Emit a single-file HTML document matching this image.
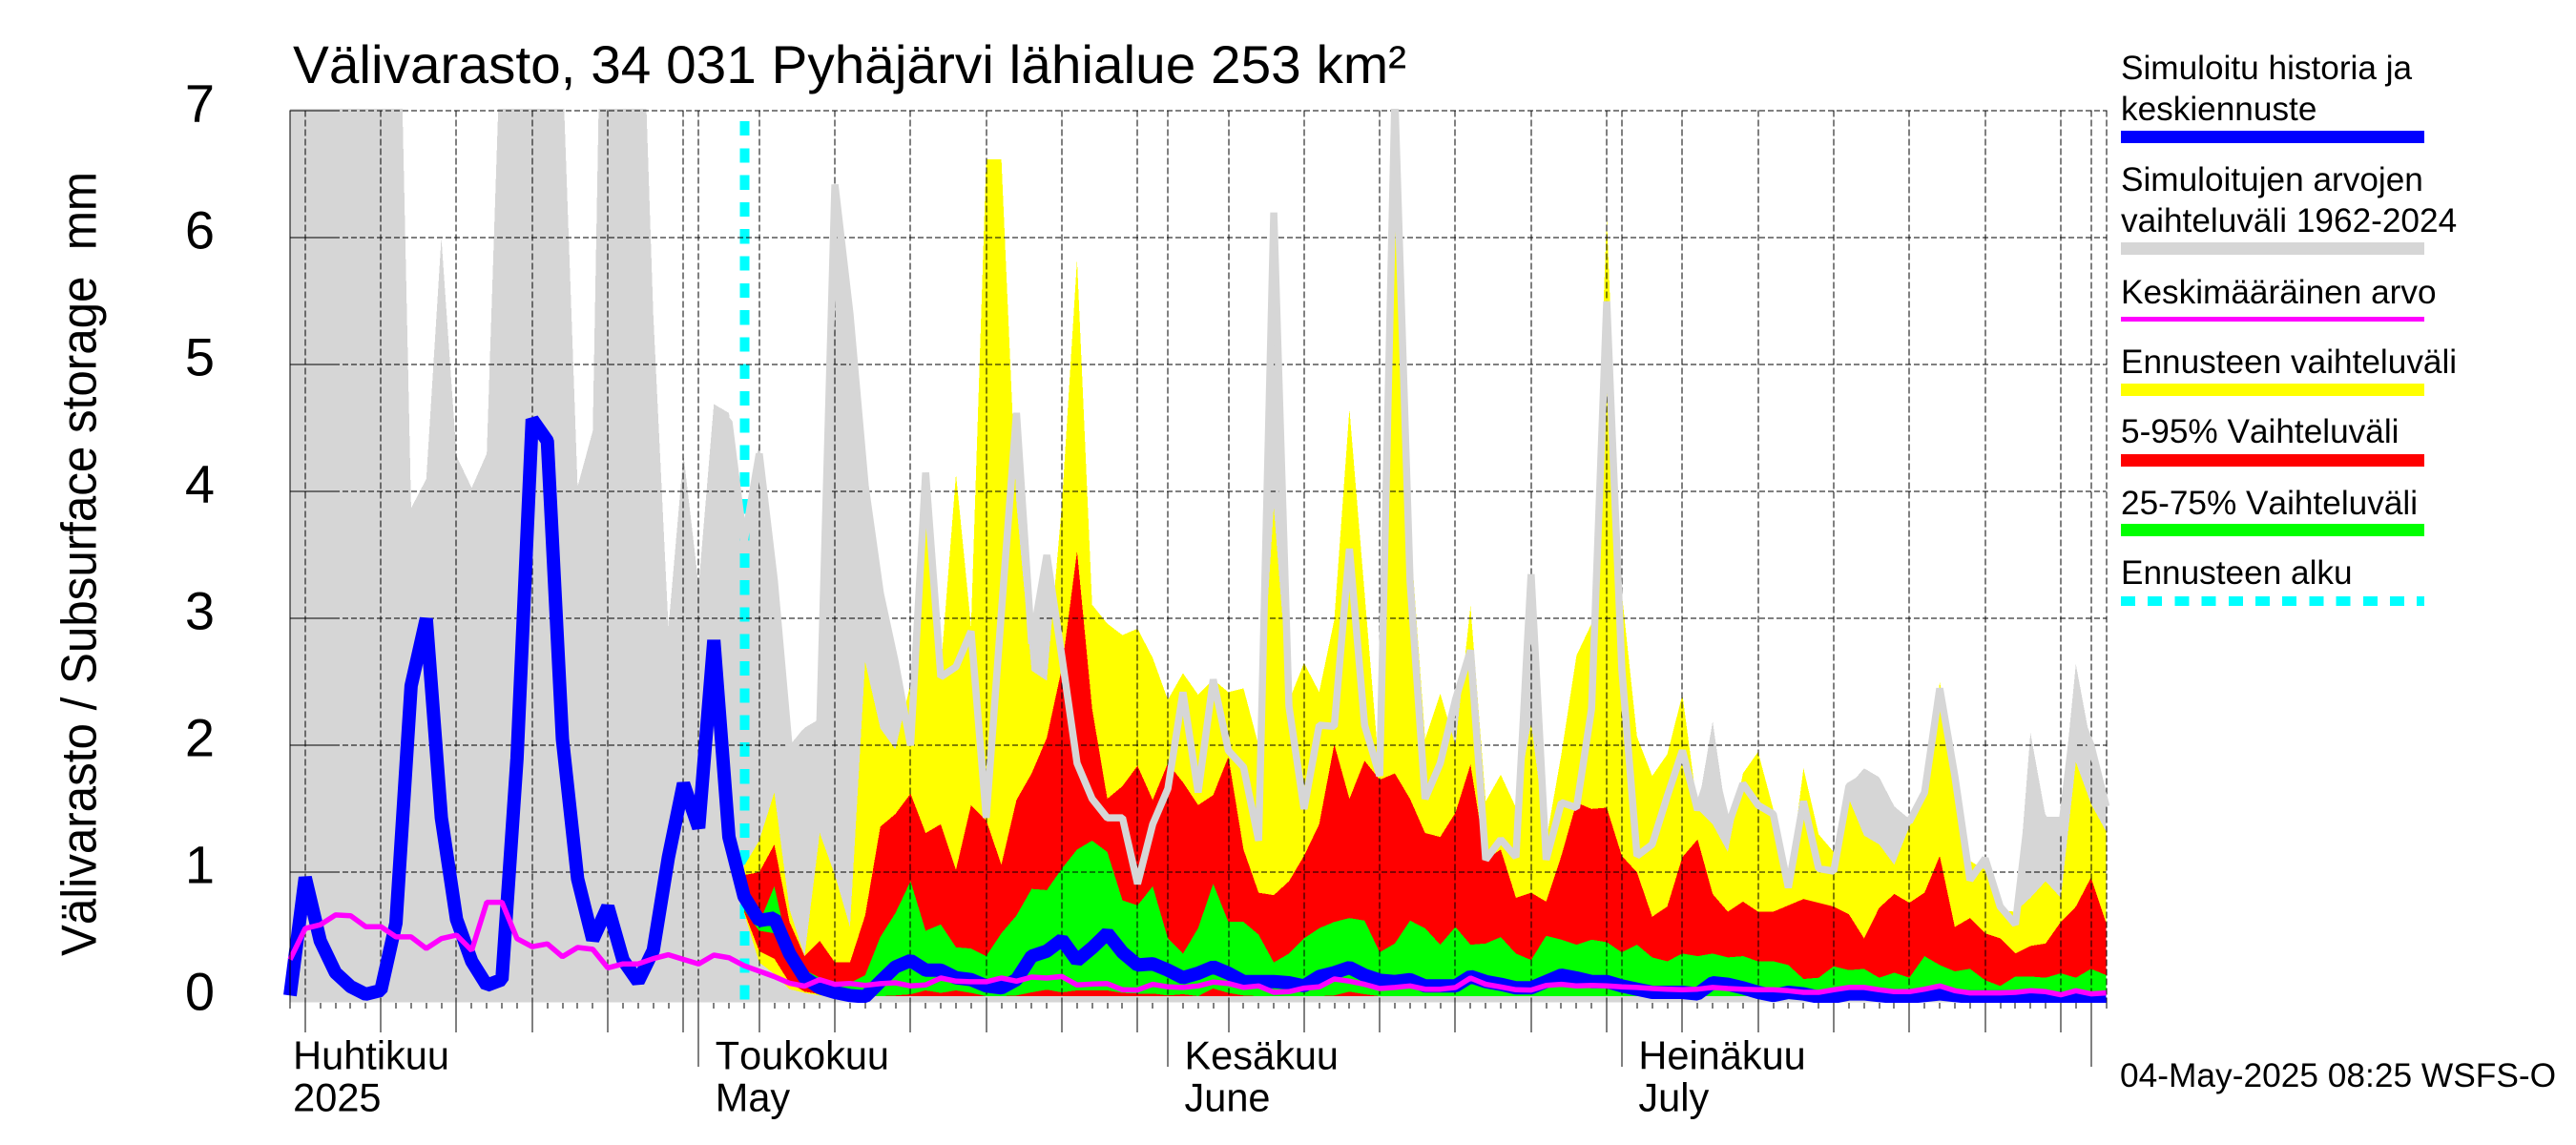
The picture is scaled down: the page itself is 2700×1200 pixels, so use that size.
<!DOCTYPE html>
<html lang="fi">
<head>
<meta charset="utf-8">
<title>Välivarasto, 34 031 Pyhäjärvi lähialue</title>
<style>
html,body{margin:0;padding:0;background:#fff;width:2700px;height:1200px;overflow:hidden}
svg{display:block}
text{font-family:"Liberation Sans",Arial,sans-serif;fill:#000;white-space:pre;font-kerning:none}
</style>
</head>
<body>
<svg id="chart" xmlns="http://www.w3.org/2000/svg" width="2700" height="1200" viewBox="0 0 2700 1200">
  <rect x="0" y="0" width="2700" height="1200" fill="#fff"/>
  <defs>
    <clipPath id="plot-clip"><rect x="285" y="114" width="1940" height="937"/></clipPath>
  </defs>
  <g id="layer-gray" clip-path="url(#plot-clip)"></g>
  <g id="layer-cyan"></g>
  <g id="layer-bands" clip-path="url(#plot-clip)"></g>
  <g id="layer-grid"></g>
  <g id="layer-lines" clip-path="url(#plot-clip)"></g>
  <g id="layer-axes"></g>

  <text x="307" y="87" font-size="56" textLength="1167" lengthAdjust="spacingAndGlyphs">Välivarasto, 34 031 Pyhäjärvi lähialue 253 km²</text>
  <text transform="translate(100.5,1002) rotate(-90)" font-size="52" textLength="822" lengthAdjust="spacingAndGlyphs" xml:space="preserve">Välivarasto / Subsurface storage  mm</text>

  <g font-size="35.2">
    <text x="2223" y="83">Simuloitu historia ja</text>
    <text x="2223" y="126">keskiennuste</text>
    <rect x="2223" y="137" width="318" height="13" fill="#0000ff" shape-rendering="crispEdges"/>
    <text x="2223" y="200">Simuloitujen arvojen</text>
    <text x="2223" y="243">vaihteluväli 1962-2024</text>
    <rect x="2223" y="254" width="318" height="13" fill="#d6d6d6" shape-rendering="crispEdges"/>
    <text x="2223" y="318">Keskimääräinen arvo</text>
    <rect x="2223" y="332" width="318" height="5" fill="#ff00ff" shape-rendering="crispEdges"/>
    <text x="2223" y="391">Ennusteen vaihteluväli</text>
    <rect x="2223" y="402" width="318" height="13" fill="#ffff00" shape-rendering="crispEdges"/>
    <text x="2223" y="464">5-95% Vaihteluväli</text>
    <rect x="2223" y="476" width="318" height="13" fill="#ff0000" shape-rendering="crispEdges"/>
    <text x="2223" y="539">25-75% Vaihteluväli</text>
    <rect x="2223" y="549" width="318" height="13" fill="#00ff00" shape-rendering="crispEdges"/>
    <text x="2223" y="612">Ennusteen alku</text>
    <line x1="2223" y1="630" x2="2541" y2="630" stroke="#00ffff" stroke-width="10" stroke-dasharray="15 13.2" shape-rendering="crispEdges"/>
  </g>
  <text x="2222" y="1139" font-size="35.3">04-May-2025 08:25 WSFS-O</text>
</svg>
<script>
// Day 0 is 4 April 2025; one value per day.
const blueSeries = [
.03,.96,.46,.21,.10,.04,.07,.60,2.47,3.0,
1.43,.63,.30,.11,.155,1.9,4.57,4.4,2.05,.95,
.47,.73,.31,.14,.385,1.12,1.7,1.35,2.83,1.28,
.81,.62,.64,.36,.17,.09,.055,.03,.02,.14,
.255,.305,.23,.23,.17,.155,.105,.09,.155,.34,
.38,.47,.305,.405,.52,.37,.27,.28,.23,.17,
.205,.255,.205,.14,.14,.14,.13,.105,.18,.21,
.25,.19,.15,.14,.155,.105,.105,.105,.18,.14,
.118,.09,.09,.14,.19,.168,.14,.14,.105,.08,
.055,.055,.055,.043,.13,.118,.09,.055,.03,.055,
.043,.018,.018,.043,.043,.03,.018,.018,.03,.043,
.03,.018,.018,.018,.018,.018,.018,.005,.018,-.008,
0];
const meanSeries = [
.313,.558,.587,.665,.659,.572,.572,.492,.492,.40,
.478,.506,.385,.765,.765,.478,.414,.437,.336,.408,
.394,.247,.279,.279,.32,.351,.314,.279,.348,.328,
.265,.222,.179,.127,.104,.155,.118,.125,.11,.123,
.13,.105,.113,.168,.143,.138,.138,.168,.143,.175,
.168,.18,.113,.12,.123,.075,.073,.118,.098,.093,
.105,.135,.125,.093,.105,.055,.06,.088,.098,.16,
.143,.118,.085,.093,.105,.08,.08,.093,.168,.118,
.098,.075,.073,.11,.118,.105,.11,.105,.098,.093,
.085,.08,.075,.08,.093,.085,.08,.075,.075,.068,
.055,.055,.075,.093,.093,.075,.06,.06,.08,.105,
.068,.05,.05,.05,.055,.068,.06,.035,.068,.043,
.05];
const grayUpper = [
9,9,9,9,9,9,9,9.4,3.87,4.1,
6.0,4.28,4.03,4.3,7.9,9,9,9,7.4,4.04,
4.48,11,9,9,5.4,2.93,4.29,3.26,4.69,4.62,
3.76,4.38,3.3,2.0,2.14,2.21,6.41,5.4,4.1,3.24,
2.69,2.0,4.1,2.54,2.62,2.9,1.43,3.05,4.6,2.8,
3.5,2.7,1.86,1.58,1.43,1.43,.91,1.38,1.66,2.42,
1.63,2.52,1.96,1.83,1.25,6.2,2.31,1.5,2.16,2.15,
3.5,2.16,1.76,7.2,3.3,1.58,1.86,2.36,2.75,1.10,
1.26,1.12,3.3,1.10,1.55,1.51,2.29,5.5,2.6,1.13,
1.22,1.6,1.96,1.49,2.19,1.36,1.70,1.53,1.46,.88,
1.56,1.03,1.01,1.68,1.82,1.75,1.52,1.42,1.63,2.45,
1.76,.94,1.11,.73,.59,2.1,1.44,1.44,2.64,2.0,
1.52];
const grayFloorValue = -0.025;
// Thick gray line, starts on day 28.
const grayLineFirstDay = 28;
const grayLine = [
4.6,4.55,
3.6,4.3,3.3,1.95,2.1,2.15,6.42,5.4,4.05,3.2,
2.65,2.0,4.15,2.54,2.62,2.9,1.43,3.05,4.62,2.8,
3.5,2.7,1.86,1.58,1.43,1.43,.91,1.38,1.66,2.42,
1.63,2.52,1.96,1.83,1.25,6.2,2.31,1.5,2.16,2.15,
3.55,2.16,1.76,7.1,3.3,1.58,1.86,2.36,2.75,1.10,
1.26,1.12,3.35,1.10,1.55,1.51,2.29,5.5,2.6,1.13,
1.22,1.6,1.96,1.49,1.85,1.36,1.70,1.53,1.46,.88,
1.56,1.03,1.01,1.68,1.75,1.65,1.45,1.4,1.63,2.45,
1.76,.94,1.11,.73,.59,1.6,1.4,1.3,2.3,2.0,
1.52];
// Forecast bands start on day 30.
const forecastFirstDay = 30;
const yellowUpper = [
1.05,1.25,1.63,.71,.34,1.31,.98,.57,2.66,2.135,
1.97,2.49,3.79,2.6,4.14,2.94,6.62,6.62,3.9,2.59,
2.51,3.9,5.83,3.11,2.96,2.87,2.92,2.69,2.36,2.57,
2.40,2.52,2.42,2.45,2.0,3.88,2.35,2.65,2.42,2.99,
4.65,3.2,1.76,6.27,3.7,2.05,2.41,2.0,3.1,1.56,
1.77,1.51,2.18,1.25,1.93,2.71,2.96,6.16,3.2,2.07,
1.76,1.93,2.40,1.5,1.38,1.16,1.78,1.95,1.5,.88,
1.82,1.30,1.16,1.58,1.29,1.22,1.06,1.36,1.6,2.5,
1.9,1.09,1.02,.70,.69,.80,.93,.80,1.87,1.54,
1.32];
const redUpper = [
.98,1.0,1.22,.61,.34,.46,.29,.29,.66,1.36,
1.46,1.62,1.31,1.38,1.02,1.53,1.41,1.06,1.57,1.78,
2.06,2.61,3.53,2.29,1.58,1.68,1.84,1.57,1.86,1.71,
1.53,1.61,1.91,1.18,.84,.82,.93,1.13,1.38,2.01,
1.58,1.88,1.73,1.78,1.58,1.31,1.28,1.47,1.85,1.10,
1.18,.80,.84,.77,1.13,1.55,1.50,1.51,1.13,1.0,
.65,.73,1.12,1.26,.83,.69,.77,.69,.69,.74,
.79,.76,.73,.67,.48,.72,.83,.76,.84,1.13,
.57,.64,.52,.48,.36,.42,.44,.61,.73,.96,
.60];
const greenUpper = [
.72,.6,.89,.36,.23,.17,.14,.13,.19,.49,
.68,.93,.54,.59,.41,.40,.34,.52,.66,.87,
.86,1.03,1.18,1.25,1.16,.78,.74,.89,.48,.36,
.56,.91,.61,.61,.51,.29,.36,.48,.56,.61,
.64,.62,.37,.44,.62,.56,.43,.57,.43,.44,
.49,.36,.31,.50,.47,.43,.47,.45,.37,.43,
.33,.30,.36,.34,.36,.33,.34,.30,.30,.27,
.16,.17,.26,.23,.24,.17,.21,.17,.34,.27,
.22,.24,.15,.105,.18,.18,.17,.205,.17,.24,
.19];
// Lower edges: listed values from day 30, the floor value afterwards.
const bandFloorValue = 0.025;
const yellowLower = [.68,.29,.2,.08,.05,.03];
const redLower = [.69,.38,.32,.13,.06,.04];
const greenLower = [
.70,.54,.52,.3,.18,.12,.06,.03,.025,.025,
.03,.04,.07,.05,.07,.05,.025,.025,.03,.055,
.075,.055,.07,.07,.07,.05,.045,.045,.03,.04,
.025,.085,.05,.03,.025,.025,.025,.025,.025,.03,
.06,.04];
const yTickValues = [0,1,2,3,4,5,6,7];
const dayCount = 120;
const fiveDayTicks = [1,6,11,16,21,26,31,36,41,46,51,56,62,67,72,77,82,87,92,97,102,107,112,117];
const monthTicks = [27,58,88,119];
const forecastStartDay = 30.05;
const monthLabels = [
  {day:0.2, fi:'Huhtikuu', en:'2025'},
  {day:28.1, fi:'Toukokuu', en:'May'},
  {day:59.1, fi:'Kesäkuu', en:'June'},
  {day:89.1, fi:'Heinäkuu', en:'July'}
];

const SVGNS = 'http://www.w3.org/2000/svg';
const plotLeft = 304, plotDayWidth = 15.863, plotTop = 115.3, plotBottom = 1051, zeroY = 1047.3, unitY = 133;
function xAt(day){ return plotLeft + plotDayWidth * day; }
function yAt(value){ return zeroY - unitY * value; }
function make(tag, attrs, parent){
  const el = document.createElementNS(SVGNS, tag);
  for (const k in attrs) el.setAttribute(k, attrs[k]);
  parent.appendChild(el);
  return el;
}
function linePoints(values, firstDay){
  return values.map((v,i)=>xAt(firstDay+i).toFixed(1)+','+yAt(v).toFixed(1)).join(' ');
}
function bandPoints(upper, lower, firstDay){
  const top = upper.map((v,i)=>xAt(firstDay+i).toFixed(1)+','+yAt(v).toFixed(1));
  const bottom = upper.map((_,i)=>{
    const v = i < lower.length ? lower[i] : bandFloorValue;
    return xAt(firstDay+i).toFixed(1)+','+yAt(v).toFixed(1);
  }).reverse();
  return top.concat(bottom).join(' ');
}

const layerGray = document.getElementById('layer-gray');
const layerCyan = document.getElementById('layer-cyan');
const layerBands = document.getElementById('layer-bands');
const layerGrid = document.getElementById('layer-grid');
const layerLines = document.getElementById('layer-lines');
const layerAxes = document.getElementById('layer-axes');

// Simulated range polygon
const grayLow = grayUpper.map(()=>grayFloorValue);
const grayTop = grayUpper.map((v,i)=>xAt(i).toFixed(1)+','+yAt(v).toFixed(1));
const grayBottom = grayLow.map((v,i)=>xAt(i).toFixed(1)+','+yAt(v).toFixed(1)).reverse();
const grayPoly = make('polygon',{points:grayTop.concat(grayBottom).join(' '),fill:'#d6d6d6','shape-rendering':'crispEdges'},layerGray);



// Forecast start marker
const cyanLine = make('line',{x1:xAt(forecastStartDay),x2:xAt(forecastStartDay),y1:127,y2:yAt(0),stroke:'#00ffff','stroke-width':10,'stroke-dasharray':'15.2 13.1','shape-rendering':'crispEdges'},layerCyan);



// Forecast bands
const yellowBand = make('polygon',{points:bandPoints(yellowUpper,yellowLower,forecastFirstDay),fill:'#ffff00','shape-rendering':'crispEdges'},layerBands);


const redBand = make('polygon',{points:bandPoints(redUpper,redLower,forecastFirstDay),fill:'#ff0000','shape-rendering':'crispEdges'},layerBands);


const greenBand = make('polygon',{points:bandPoints(greenUpper,greenLower,forecastFirstDay),fill:'#00ff00','shape-rendering':'crispEdges'},layerBands);



// Grid
yTickValues.forEach(v=>{
  if (v === 0) return;
  const y = Math.round(yAt(v));
  const solid = make('line',{x1:plotLeft,x2:plotLeft+46,y1:y,y2:y,stroke:'#000','stroke-width':1,'shape-rendering':'crispEdges'},layerGrid);
  
  
  const dash = make('line',{x1:plotLeft+46,x2:xAt(dayCount),y1:y,y2:y,stroke:'#000','stroke-width':1,'stroke-dasharray':'6 3','shape-rendering':'crispEdges'},layerGrid);
  
  
});
fiveDayTicks.concat(monthTicks,[dayCount]).forEach(d=>{
  const x = Math.round(xAt(d));
  const g = make('line',{x1:x,x2:x,y1:plotTop,y2:plotBottom,stroke:'#000','stroke-width':1,'stroke-dasharray':'7 3','shape-rendering':'crispEdges'},layerGrid);
  
  
});

// Series lines
const thickGray = make('polyline',{points:linePoints(grayLine,grayLineFirstDay),fill:'none',stroke:'#d6d6d6','stroke-width':7.5,'stroke-linejoin':'bevel'},layerLines);


const blueLine = make('polyline',{points:linePoints(blueSeries,0),fill:'none',stroke:'#0000ff','stroke-width':14,'stroke-linejoin':'bevel'},layerLines);


const meanLine = make('polyline',{points:linePoints(meanSeries,0),fill:'none',stroke:'#ff00ff','stroke-width':5.5,'stroke-linejoin':'bevel'},layerLines);



// Axes
const yAxisLine = make('line',{x1:plotLeft,x2:plotLeft,y1:plotTop,y2:plotBottom,stroke:'#000','stroke-width':1,'shape-rendering':'crispEdges'},layerAxes);


yTickValues.forEach(v=>{
  const t = make('text',{x:225,y:yAt(v)+11,'font-size':56,'text-anchor':'end'},layerAxes);
  t.textContent = String(v);
  
  
});
for (let d = 0; d <= dayCount; d++){
  const x = Math.round(xAt(d));
  const tk = make('line',{x1:x,x2:x,y1:plotBottom,y2:plotBottom+6,stroke:'#000','stroke-width':1,'shape-rendering':'crispEdges'},layerAxes);
  
  
}
fiveDayTicks.forEach(d=>{
  const x = Math.round(xAt(d));
  const tk = make('line',{x1:x,x2:x,y1:plotBottom,y2:1082,stroke:'#000','stroke-width':1,'shape-rendering':'crispEdges'},layerAxes);
  
  
});
monthTicks.forEach(d=>{
  const x = Math.round(xAt(d));
  const tk = make('line',{x1:x,x2:x,y1:plotBottom,y2:1118,stroke:'#000','stroke-width':1,'shape-rendering':'crispEdges'},layerAxes);
  
  
});
monthLabels.forEach(m=>{
  const a = make('text',{x:xAt(m.day),y:1120.5,'font-size':41.5},layerAxes);
  a.textContent = m.fi;
  
  
  const b = make('text',{x:xAt(m.day),y:1164.5,'font-size':41.5},layerAxes);
  b.textContent = m.en;
  
  
});
</script>
</body>
</html>
